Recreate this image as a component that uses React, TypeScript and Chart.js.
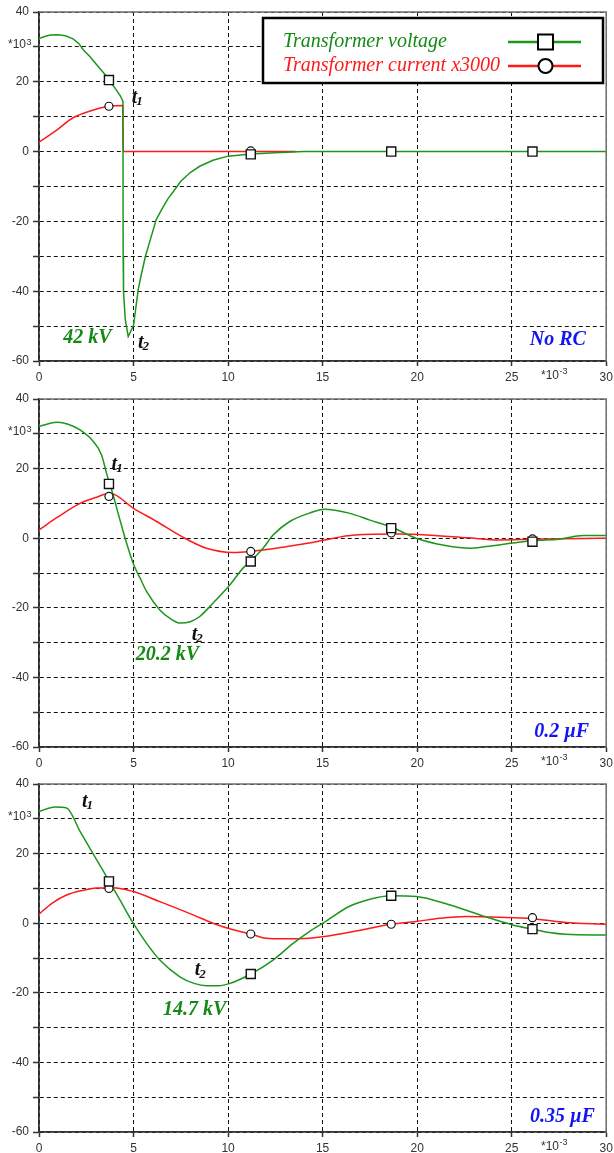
import React, { useEffect, useRef } from 'react';
import { Chart, registerables } from 'chart.js';

Chart.register(...registerables);

// ---------- shared ----------
const MARK_T = [3.7, 11.2, 18.63, 26.1];
const X_LABELS = [0, 5, 10, 15, 20, 25, 30];
const Y_LABELS = [-60, -40, -20, 0, 20, 40];
const LEGEND_LABELS = ['Transformer voltage', 'Transformer current x3000'];

// ---------- panel 1 : No RC ----------
const P1_V_T = [0, 0.3, 0.6, 1.0, 1.4, 1.8, 2.1, 2.34, 2.7, 3.05, 3.49, 3.7, 4.02, 4.3, 4.44, 4.45, 4.47, 4.56, 4.72, 5.0, 5.25, 5.4, 5.63, 5.9, 6.2, 6.5, 6.8, 7.1, 7.5, 8.0, 8.5, 9.2, 10, 11.2, 12.5, 14, 20, 30];
const P1_V = [32.4, 33.0, 33.4, 33.5, 33.2, 32.3, 31.0, 29.2, 27.2, 24.9, 22.1, 20.4, 18.2, 16.0, 14.4, -30, -40, -48, -53, -49.8, -39.5, -35.5, -30, -25, -19.5, -16.5, -13.7, -11.5, -8.5, -6.0, -4.2, -2.5, -1.3, -0.7, -0.3, 0, 0, 0];
const P1_I_T = [0, 0.9, 1.8, 2.8, 3.7, 4.43, 4.44, 4.46, 9, 13.55];
const P1_I = [2.7, 6.0, 9.7, 11.8, 13.0, 13.2, 6, 0, 0, 0];
const P1_V_MARK = [20.5, -0.8, 0, 0];
const P1_I_MARK = [13.0, 0.2];

// ---------- panel 2 : 0.2 uF ----------
const P2_V_T = [0, 0.5, 1.0, 1.5, 2.17, 2.87, 3.31, 3.57, 3.84, 4.28, 4.63, 5.0, 5.35, 5.69, 6.39, 7.0, 7.45, 8.0, 8.5, 9.2, 10.1, 10.79, 11.2, 11.85, 12.38, 13.26, 14.3, 15.1, 16.4, 17.5, 18.63, 19.95, 21.5, 22.77, 23.65, 25.06, 26.1, 27.5, 28.8, 30];
const P2_V = [32.1, 32.9, 33.3, 32.8, 31.1, 27.8, 23.9, 18.7, 13.9, 5.3, -1.4, -7.5, -11.5, -15.3, -20.6, -23.3, -24.4, -24.0, -22.5, -18.7, -13.4, -8.6, -6.6, -2.9, 0.9, 4.8, 7.2, 8.3, 7.2, 5.2, 3.2, 0, -2.1, -2.9, -2.4, -1.4, -0.7, -0.3, 0.75, 0.75];
const P2_I_T = [0, 1.0, 2.17, 3.0, 3.75, 5.0, 6.22, 7.54, 8.86, 10.27, 11.2, 11.85, 13.0, 14.3, 15.1, 16.7, 19.07, 20.5, 22.7, 24.35, 26.1, 28.8, 30];
const P2_I = [2.4, 6.1, 10.0, 11.7, 12.9, 8.6, 4.8, 0.5, -2.9, -4.1, -3.8, -3.4, -2.5, -1.4, -0.5, 0.95, 1.2, 0.95, 0.1, -0.5, -0.3, -0.1, 0];
const P2_V_MARK = [15.6, -6.7, 2.9, -1.0];
const P2_I_MARK = [12.0, -3.8, 1.5, -0.2];

// ---------- panel 3 : 0.35 uF ----------
const P3_V_T = [0, 0.85, 1.46, 2.17, 3.05, 3.72, 4.28, 4.98, 5.69, 6.39, 7.45, 8.2, 8.86, 9.5, 10.1, 11.2, 12.38, 13.44, 14.3, 15.1, 16.4, 17.5, 18.63, 19.95, 21.7, 23.47, 25.06, 26.1, 27.0, 27.85, 30];
const P3_V = [32.1, 33.4, 33.1, 26.4, 18.2, 12.0, 6.7, 0, -5.8, -10.6, -15.4, -17.3, -18.0, -18.0, -17.3, -14.6, -10.6, -5.8, -2.4, 0.3, 4.8, 6.9, 7.9, 7.7, 5.3, 2.1, -0.5, -1.7, -2.7, -3.2, -3.4];
const P3_I_T = [0, 0.7, 1.46, 2.3, 3.05, 3.93, 4.98, 6.39, 8.15, 9.2, 10.27, 11.2, 12.0, 13.0, 14.3, 15.1, 17.0, 18.63, 19.95, 21.2, 22.6, 24.35, 26.1, 27.85, 30];
const P3_I = [2.6, 5.8, 8.1, 9.4, 10.1, 10.2, 9.1, 6.2, 2.4, 0, -1.9, -3.1, -4.3, -4.5, -4.3, -3.8, -2.0, -0.3, 0.5, 1.4, 1.9, 1.7, 1.3, 0.2, -0.3];
const P3_V_MARK = [12.0, -14.6, 7.9, -1.7];
const P3_I_MARK = [10.0, -3.1, -0.3, 1.6];

// ---------- styles ----------
const GREEN_LINE = '#1c961c';
const GREEN_TEXT = '#138a13';
const RED = '#ff1a1a';
const BLUE = '#1414f0';
const AXIS_FONT = '"Liberation Sans", Arial, sans-serif';
const SERIF = '"Liberation Serif", "Times New Roman", serif';

type Note = { text: string; sub?: string; x: number; y: number; color: string; kind: 't' | 'big' };

const NOTES_1: Note[] = [
  { text: 't', sub: '1', x: 4.9, y: 13.95, color: '#111', kind: 't' },
  { text: 't', sub: '2', x: 5.23, y: -56.2, color: '#111', kind: 't' },
  { text: '42 kV', x: 2.56, y: -53.3, color: GREEN_TEXT, kind: 'big' },
  { text: 'No RC', x: 27.44, y: -54.0, color: BLUE, kind: 'big' },
];
const NOTES_2: Note[] = [
  { text: 't', sub: '1', x: 3.84, y: 19.6, color: '#111', kind: 't' },
  { text: 't', sub: '2', x: 8.08, y: -29.2, color: '#111', kind: 't' },
  { text: '20.2 kV', x: 6.79, y: -33.5, color: GREEN_TEXT, kind: 'big' },
  { text: '0.2 \u00b5F', x: 27.65, y: -55.7, color: BLUE, kind: 'big' },
];
const NOTES_3: Note[] = [
  { text: 't', sub: '1', x: 2.27, y: 33.5, color: '#111', kind: 't' },
  { text: 't', sub: '2', x: 8.24, y: -14.9, color: '#111', kind: 't' },
  { text: '14.7 kV', x: 8.24, y: -24.9, color: GREEN_TEXT, kind: 'big' },
  { text: '0.35 \u00b5F', x: 27.68, y: -55.7, color: BLUE, kind: 'big' },
];

const pts = (xs: number[], ys: number[]) => ys.map((y, i) => ({ x: xs[i], y }));

const decorPlugin = {
  id: 'decor',
  afterDraw(chart: any, _args: any, opts: any) {
    const { ctx, chartArea: a, scales } = chart;
    const xs = scales.x;
    const ys = scales.y;
    ctx.save();
    // top & right frame
    ctx.strokeStyle = '#6e6e6e';
    ctx.lineWidth = 1.5;
    ctx.setLineDash([]);
    ctx.beginPath();
    ctx.moveTo(a.left, a.top);
    ctx.lineTo(a.right, a.top);
    ctx.lineTo(a.right, a.bottom);
    ctx.stroke();

    // *10^3 on y axis
    ctx.fillStyle = '#333';
    ctx.textAlign = 'left';
    ctx.textBaseline = 'alphabetic';
    ctx.font = `12px ${AXIS_FONT}`;
    const y30 = ys.getPixelForValue(30);
    ctx.fillText('*10', 8, y30 + 1.5);
    let w = ctx.measureText('*10').width;
    ctx.font = `9px ${AXIS_FONT}`;
    ctx.fillText('3', 8 + w + 0.5, y30 - 2);

    // *10^-3 on x axis
    ctx.font = `12px ${AXIS_FONT}`;
    ctx.textBaseline = 'middle';
    const xl = xs.getPixelForValue(26.55);
    const yb = a.bottom + 15;
    ctx.fillText('*10', xl, yb);
    w = ctx.measureText('*10').width;
    ctx.font = `9px ${AXIS_FONT}`;
    ctx.fillText('-3', xl + w + 0.5, yb - 4);

    // notes
    for (const n of opts.notes as Note[]) {
      const px = xs.getPixelForValue(n.x);
      const py = ys.getPixelForValue(n.y);
      ctx.fillStyle = n.color;
      if (n.kind === 'big') {
        ctx.font = `italic bold 20px ${SERIF}`;
        ctx.textAlign = 'center';
        ctx.textBaseline = 'middle';
        ctx.fillText(n.text, px, py);
      } else {
        ctx.font = `italic bold 20px ${SERIF}`;
        ctx.textAlign = 'left';
        ctx.textBaseline = 'alphabetic';
        ctx.fillText(n.text, px, py);
        const tw = ctx.measureText(n.text).width;
        ctx.font = `italic bold 13px ${SERIF}`;
        ctx.fillText(n.sub || '', px + tw - 1, py + 2.5);
      }
    }

    // legend
    if (opts.legend) {
      const lx = 263, ly = 18, lw = 340, lh = 65;
      ctx.fillStyle = '#fff';
      ctx.fillRect(lx, ly, lw, lh);
      ctx.strokeStyle = '#000';
      ctx.lineWidth = 2.5;
      ctx.strokeRect(lx, ly, lw, lh);
      const rows = [
        { label: LEGEND_LABELS[0], color: GREEN_TEXT, line: GREEN_LINE, y: 42, marker: 'rect' },
        { label: LEGEND_LABELS[1], color: RED, line: RED, y: 66, marker: 'circle' },
      ];
      for (const r of rows) {
        ctx.font = `italic 20px ${SERIF}`;
        ctx.textAlign = 'left';
        ctx.textBaseline = 'alphabetic';
        ctx.fillStyle = r.color;
        ctx.fillText(r.label, 283, r.y + 4.5);
        ctx.strokeStyle = r.line;
        ctx.lineWidth = 2.5;
        ctx.beginPath();
        ctx.moveTo(508, r.y);
        ctx.lineTo(581, r.y);
        ctx.stroke();
        ctx.fillStyle = '#fff';
        ctx.strokeStyle = '#000';
        ctx.lineWidth = 2;
        if (r.marker === 'rect') {
          ctx.fillRect(538, r.y - 7.5, 15, 15);
          ctx.strokeRect(538, r.y - 7.5, 15, 15);
        } else {
          ctx.beginPath();
          ctx.arc(545.5, r.y, 7, 0, Math.PI * 2);
          ctx.fill();
          ctx.stroke();
        }
      }
    }
    ctx.restore();
  },
};

type PanelProps = {
  top: number;
  height: number;
  axisH: number;
  vT: number[];
  v: number[];
  iT: number[];
  i: number[];
  vMark: number[];
  iMark: number[];
  notes: Note[];
  legend: boolean;
  straightV?: boolean;
};

function Panel(p: PanelProps) {
  const ref = useRef<HTMLCanvasElement>(null);
  useEffect(() => {
    const chart = new Chart(ref.current as HTMLCanvasElement, {
      type: 'scatter',
      data: {
        datasets: [
          {
            label: 'vmark',
            data: pts(MARK_T, p.vMark),
            showLine: false,
            pointStyle: 'rect',
            pointRadius: 6.4,
            pointBackgroundColor: '#fff',
            pointBorderColor: '#111',
            pointBorderWidth: 1.4,
          },
          {
            label: 'imark',
            data: pts(MARK_T, p.iMark),
            showLine: false,
            pointStyle: 'circle',
            pointRadius: 4,
            pointBackgroundColor: '#fff',
            pointBorderColor: '#111',
            pointBorderWidth: 1.2,
          },
          {
            label: LEGEND_LABELS[0],
            data: pts(p.vT, p.v),
            showLine: true,
            borderColor: GREEN_LINE,
            borderWidth: 1.5,
            pointRadius: 0,
            cubicInterpolationMode: p.straightV ? 'default' : 'monotone',
            tension: 0,
          },
          {
            label: LEGEND_LABELS[1],
            data: pts(p.iT, p.i),
            showLine: true,
            borderColor: RED,
            borderWidth: 1.5,
            pointRadius: 0,
            cubicInterpolationMode: 'monotone',
          },
        ],
      } as any,
      options: {
        animation: false,
        responsive: false,
        maintainAspectRatio: false,
        layout: { padding: { top: 12, right: 7, left: 0, bottom: 0 } },
        plugins: {
          legend: { display: false },
          tooltip: { enabled: false },
          decor: { notes: p.notes, legend: p.legend },
        } as any,
        scales: {
          x: {
            type: 'linear',
            min: 0,
            max: 30,
            afterFit: (s: any) => {
              s.height = p.axisH;
              s.paddingLeft = 0;
              s.paddingRight = 0;
            },
            ticks: {
              stepSize: 5,
              autoSkip: false,
              maxRotation: 0,
              padding: 4,
              color: '#333',
              font: { family: AXIS_FONT, size: 12 },
              callback: (val: any) => (X_LABELS.includes(Number(val)) ? String(val) : ''),
            },
            grid: {
              color: '#111',
              lineWidth: 1,
              tickLength: 5,
              tickColor: '#333',
              tickWidth: 1.5,
            },
            border: { display: true, color: '#333', width: 1.8, dash: [4, 3] },
          },
          y: {
            type: 'linear',
            min: -60,
            max: 40,
            afterFit: (s: any) => {
              s.width = 39;
              s.paddingTop = 0;
              s.paddingBottom = 0;
            },
            ticks: {
              stepSize: 10,
              autoSkip: false,
              padding: 4,
              color: '#333',
              font: { family: AXIS_FONT, size: 12 },
              callback: (val: any) => (Y_LABELS.includes(Number(val)) ? String(val) : ''),
            },
            grid: {
              color: '#111',
              lineWidth: 1,
              tickLength: 6,
              tickColor: '#333',
              tickWidth: 1.5,
            },
            border: { display: true, color: '#333', width: 1.8, dash: [4, 3] },
          },
        },
      } as any,
      plugins: [decorPlugin as any],
    });
    return () => chart.destroy();
  }, []);
  return (
    <canvas
      ref={ref}
      width={614}
      height={p.height}
      style={{ position: 'absolute', left: 0, top: p.top, width: 614, height: p.height, display: 'block' }}
    />
  );
}

export default function App() {
  return (
    <div style={{ position: 'absolute', left: 0, top: 0, width: 614, height: 1153, overflow: 'hidden', background: '#fff' }}>
      <Panel top={0} height={385} axisH={24} vT={P1_V_T} v={P1_V} iT={P1_I_T} i={P1_I} vMark={P1_V_MARK} iMark={P1_I_MARK} notes={NOTES_1} legend={true} straightV={true} />
      <Panel top={387} height={385} axisH={25} vT={P2_V_T} v={P2_V} iT={P2_I_T} i={P2_I} vMark={P2_V_MARK} iMark={P2_I_MARK} notes={NOTES_2} legend={false} />
      <Panel top={772} height={381} axisH={21} vT={P3_V_T} v={P3_V} iT={P3_I_T} i={P3_I} vMark={P3_V_MARK} iMark={P3_I_MARK} notes={NOTES_3} legend={false} />
    </div>
  );
}
